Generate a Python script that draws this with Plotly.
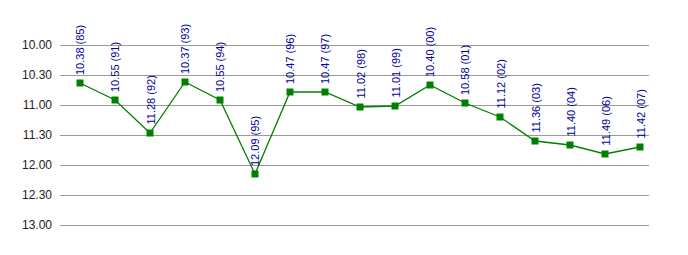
import plotly.graph_objects as go

years = ["85", "91", "92", "93", "94", "95", "96", "97", "98", "99", "00", "01", "02", "03", "04", "06", "07"]
times = ["10.38", "10.55", "11.28", "10.37", "10.55", "12.09", "10.47", "10.47", "11.02", "11.01",
         "10.40", "10.58", "11.12", "11.36", "11.40", "11.49", "11.42"]
tick_labels = ["10.00", "10.30", "11.00", "11.30", "12.00", "12.30", "13.00"]


def to_sec(t):
    m, s = t.split(".")
    return int(m) * 60 + int(s)


secs = [to_sec(t) for t in times]
tick_vals = [to_sec(t) for t in tick_labels]
labels = [f"{t} ({y})" for t, y in zip(times, years)]
xs = list(range(len(years)))

FONT = "Liberation Sans Narrow, Arial Narrow, Liberation Sans, Arial, sans-serif"

fig = go.Figure()
fig.add_trace(go.Scatter(
    x=xs, y=secs, mode="lines+markers",
    line=dict(color="#008000", width=1.3),
    marker=dict(symbol="square", size=7, color="#008000"),
    cliponaxis=False, hoverinfo="skip",
))

for x, y, lab in zip(xs, secs, labels):
    fig.add_annotation(
        x=x, y=y, text=lab, showarrow=False, textangle=-90,
        xanchor="center", yanchor="bottom", yshift=6,
        font=dict(family=FONT, size=11, color="#000099"),
    )

fig.update_layout(
    width=688, height=255,
    margin=dict(l=60, r=39, t=41, b=26),
    paper_bgcolor="white", plot_bgcolor="white",
    showlegend=False,
    font=dict(family=FONT, size=12, color="#222222"),
    xaxis=dict(range=[-20 / 35, 16 + 9 / 35], showticklabels=False, showgrid=False,
               zeroline=False, showline=False, ticks=""),
    yaxis=dict(range=[784, 596], tickvals=tick_vals, ticktext=tick_labels,
               showgrid=True, gridcolor="#999999", gridwidth=1, zeroline=False,
               showline=False, ticks="", ticklabelstandoff=7,
               tickfont=dict(family=FONT, size=12, color="#222222")),
)

fig.write_html("out.html")
